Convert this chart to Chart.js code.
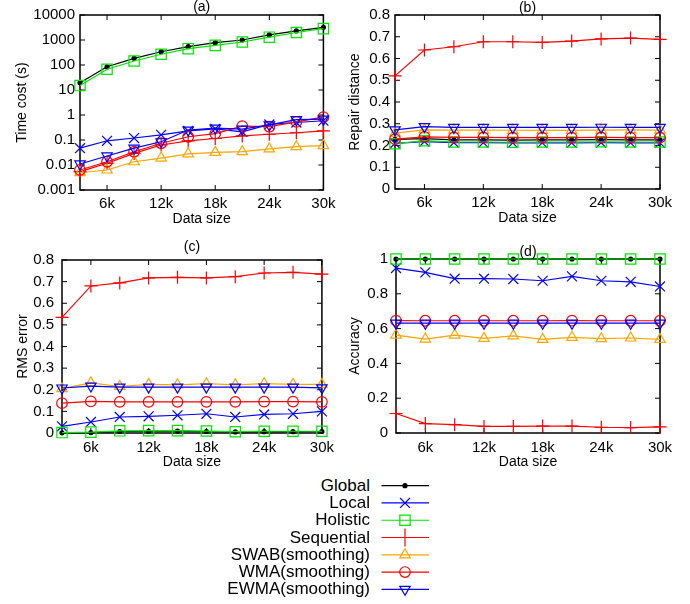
<!DOCTYPE html>
<html>
<head>
<meta charset="utf-8">
<script src="https://cdn.jsdelivr.net/npm/chart.js@4.4.1/dist/chart.umd.min.js"></script>
<style>
  body { margin: 0; background: #fff; width: 690px; height: 604px; position: relative; overflow: hidden;
         font-family: 'Liberation Sans', Arial, sans-serif; }
  canvas.panel { position: absolute; }
  .row { position: absolute; left: 0; width: 370px; height: 20px; line-height: 20px;
         text-align: right; font-size: 17px; color: #000; white-space: nowrap; }
</style>
</head>
<body>
<canvas id="chartA" class="panel" width="340" height="228" style="left:0;top:0"></canvas>
<canvas id="chartB" class="panel" width="350" height="227" style="left:340px;top:0"></canvas>
<canvas id="chartC" class="panel" width="340" height="231" style="left:0;top:240px"></canvas>
<canvas id="chartD" class="panel" width="350" height="231" style="left:340px;top:240px"></canvas>
<div id="legendText"></div>
<canvas id="legendMarks" class="panel" width="60" height="130" style="left:375px;top:470px"></canvas>
<script>
// x values and ticks
const dataSizes = [3000, 6000, 9000, 12000, 15000, 18000, 21000, 24000, 27000, 30000];
const xTickValues = [6000, 12000, 18000, 24000, 30000];
const xTickLabels = ['6k', '12k', '18k', '24k', '30k'];

const seriesNames = ['Global', 'Local', 'Holistic', 'Sequential', 'SWAB(smoothing)', 'WMA(smoothing)', 'EWMA(smoothing)'];

// (a) time cost (s), log scale
const timeGlobal     = [19.5, 85, 185, 340, 540, 780, 1000, 1600, 2300, 3200];
const timeLocal      = [0.047, 0.093, 0.12, 0.16, 0.23, 0.28, 0.21, 0.42, 0.5, 0.59];
const timeHolistic   = [15, 68, 145, 270, 450, 610, 830, 1300, 2000, 2850];
const timeSequential = [0.0054, 0.0117, 0.029, 0.063, 0.092, 0.115, 0.145, 0.17, 0.195, 0.23];
const timeSwab       = [0.0049, 0.0063, 0.0135, 0.019, 0.028, 0.032, 0.034, 0.044, 0.054, 0.06];
const timeWma        = [0.0063, 0.0135, 0.034, 0.074, 0.135, 0.18, 0.36, 0.34, 0.53, 0.82];
const timeEwma       = [0.011, 0.023, 0.047, 0.085, 0.25, 0.3, 0.27, 0.4, 0.65, 0.68];
const timeTickValues = [0.001, 0.01, 0.1, 1, 10, 100, 1000, 10000];
const timeTickLabels = ['0.001', '0.01', '0.1', '1', '10', '100', '1000', '10000'];

// (b) repair distance
const distGlobal     = [0.228, 0.232, 0.226, 0.226, 0.225, 0.226, 0.226, 0.227, 0.226, 0.226];
const distLocal      = [0.21, 0.218, 0.213, 0.213, 0.212, 0.212, 0.212, 0.213, 0.212, 0.212];
const distHolistic   = [0.208, 0.222, 0.216, 0.216, 0.215, 0.216, 0.216, 0.217, 0.216, 0.216];
const distSequential = [0.52, 0.639, 0.654, 0.677, 0.677, 0.674, 0.68, 0.69, 0.694, 0.688];
const distSwab       = [0.257, 0.272, 0.271, 0.271, 0.27, 0.27, 0.27, 0.271, 0.272, 0.271];
const distWma        = [0.229, 0.24, 0.237, 0.237, 0.236, 0.236, 0.236, 0.237, 0.236, 0.236];
const distEwma       = [0.272, 0.287, 0.283, 0.283, 0.283, 0.283, 0.283, 0.284, 0.283, 0.283];

// (c) RMS error
const rmsGlobal     = [0.001, 0.002, 0.007, 0.008, 0.009, 0.007, 0.005, 0.006, 0.006, 0.007];
const rmsLocal      = [0.031, 0.051, 0.074, 0.077, 0.082, 0.089, 0.074, 0.086, 0.089, 0.1];
const rmsHolistic   = [0.002, 0.004, 0.01, 0.011, 0.011, 0.009, 0.006, 0.008, 0.008, 0.008];
const rmsSequential = [0.535, 0.68, 0.694, 0.717, 0.72, 0.717, 0.723, 0.74, 0.743, 0.735];
const rmsSwab       = [0.205, 0.232, 0.215, 0.225, 0.223, 0.228, 0.223, 0.228, 0.225, 0.225];
const rmsWma        = [0.138, 0.146, 0.144, 0.144, 0.144, 0.144, 0.144, 0.145, 0.145, 0.144];
const rmsEwma       = [0.208, 0.217, 0.212, 0.212, 0.212, 0.212, 0.212, 0.212, 0.212, 0.209];
const tenthTickValues = [0, 0.1, 0.2, 0.3, 0.4, 0.5, 0.6, 0.7, 0.8];
const tenthTickLabels = ['0', '0.1', '0.2', '0.3', '0.4', '0.5', '0.6', '0.7', '0.8'];

// (d) accuracy
const accGlobal     = [1, 1, 1, 1, 1, 1, 1, 1, 1, 1];
const accLocal      = [0.948, 0.923, 0.887, 0.887, 0.885, 0.875, 0.9, 0.875, 0.869, 0.842];
const accHolistic   = [1, 1, 1, 1, 1, 1, 1, 1, 1, 1];
const accSequential = [0.112, 0.054, 0.048, 0.038, 0.038, 0.04, 0.04, 0.033, 0.031, 0.035];
const accSwab       = [0.563, 0.54, 0.563, 0.544, 0.558, 0.538, 0.55, 0.542, 0.546, 0.538];
const accWma        = [0.646, 0.645, 0.645, 0.645, 0.645, 0.645, 0.646, 0.645, 0.645, 0.645];
const accEwma       = [0.631, 0.631, 0.631, 0.631, 0.631, 0.631, 0.631, 0.631, 0.631, 0.631];
const accTickValues = [0, 0.2, 0.4, 0.6, 0.8, 1];
const accTickLabels = ['0', '0.2', '0.4', '0.6', '0.8', '1'];

const FONT = "'Liberation Sans', Arial, sans-serif";
Chart.defaults.font.family = FONT;
Chart.defaults.color = '#000';

const seriesStyles = [
  { color: '#000000', pointStyle: 'circle',   radius: 2,   filled: true },
  { color: '#0000ff', pointStyle: 'crossRot', radius: 7 },
  { color: '#00e600', pointStyle: 'rect',     radius: 7.3 },
  { color: '#ff0000', pointStyle: 'cross',    radius: 6.5 },
  { color: '#ffa500', pointStyle: 'triangle', radius: 6 },
  { color: '#ff0000', pointStyle: 'circle',   radius: 5.3 },
  { color: '#0000ff', pointStyle: 'triangle', radius: 6, rotation: 180 }
];

function makeDataset(i, values) {
  const s = seriesStyles[i];
  return {
    label: seriesNames[i],
    data: values.map((v, j) => ({ x: dataSizes[j], y: v })),
    borderColor: s.color,
    backgroundColor: s.color,
    borderWidth: 1.2,
    pointStyle: s.pointStyle,
    pointRadius: s.radius,
    pointRotation: s.rotation || 0,
    pointBorderColor: s.color,
    pointBorderWidth: 1.2,
    pointBackgroundColor: s.filled ? s.color : 'rgba(0,0,0,0)',
    clip: false,
    order: seriesNames.length - i
  };
}

// gnuplot-like border with inward ticks on all four sides
const boxPlugin = {
  id: 'box',
  beforeDatasetsDraw(chart) {
    const { ctx, chartArea: a, scales: { x, y } } = chart;
    ctx.save();
    ctx.strokeStyle = '#000';
    ctx.lineWidth = 1;
    ctx.beginPath();
    x.ticks.forEach(t => {
      const px = x.getPixelForValue(t.value);
      ctx.moveTo(px, a.bottom); ctx.lineTo(px, a.bottom - 5);
      ctx.moveTo(px, a.top); ctx.lineTo(px, a.top + 5);
    });
    y.ticks.forEach(t => {
      const py = y.getPixelForValue(t.value);
      ctx.moveTo(a.left, py); ctx.lineTo(a.left + 5, py);
      ctx.moveTo(a.right, py); ctx.lineTo(a.right - 5, py);
    });
    ctx.stroke();
    ctx.lineWidth = 1.5;
    ctx.strokeRect(a.left, a.top, a.right - a.left, a.bottom - a.top);
    ctx.restore();
  }
};

const titlePlugin = {
  id: 'panelTitle',
  afterDraw(chart, args, opts) {
    const { ctx, chartArea: a } = chart;
    ctx.save();
    ctx.font = '14px ' + FONT;
    ctx.fillStyle = '#000';
    ctx.textAlign = 'center';
    ctx.textBaseline = 'middle';
    ctx.fillText(opts.text, (a.left + a.right) / 2, a.top - opts.offset);
    ctx.restore();
  }
};

function makeChart(id, cfg) {
  return new Chart(document.getElementById(id), {
    type: 'line',
    data: { datasets: cfg.series.map((vals, i) => makeDataset(i, vals)) },
    options: {
      responsive: false,
      animation: false,
      devicePixelRatio: 1,
      layout: { padding: { top: cfg.top, right: cfg.right, left: 0, bottom: 0 } },
      plugins: {
        legend: { display: false },
        tooltip: { enabled: false },
        panelTitle: { text: cfg.title, offset: cfg.titleOffset }
      },
      scales: {
        x: {
          type: 'linear', min: 3000, max: 30000,
          grid: { display: false, drawTicks: false }, border: { display: false },
          afterBuildTicks: s => { s.ticks = xTickValues.map(v => ({ value: v })); },
          afterFit: s => { s.height = 38; },
          ticks: { padding: cfg.xPad, font: { size: 15 }, maxRotation: 0, autoSkip: false,
                   callback: (v, i) => xTickLabels[i] },
          title: { display: true, text: 'Data size', font: { size: 14 }, padding: 0 }
        },
        y: {
          type: cfg.yType, min: cfg.yMin, max: cfg.yMax,
          grid: { display: false, drawTicks: false }, border: { display: false },
          afterBuildTicks: s => { s.ticks = cfg.yTicks.map(v => ({ value: v })); },
          afterFit: s => { s.width = cfg.yWidth; },
          ticks: { padding: cfg.yPad, font: { size: 15 }, autoSkip: false,
                   callback: (v, i) => cfg.yLabels[i] },
          title: { display: true, text: cfg.yTitle, font: { size: 14 }, padding: { top: cfg.yTitlePad, bottom: 0 } }
        }
      }
    },
    plugins: [boxPlugin, titlePlugin]
  });
}

makeChart('chartA', {
  series: [timeGlobal, timeLocal, timeHolistic, timeSequential, timeSwab, timeWma, timeEwma],
  title: '(a)', titleOffset: 8, top: 15, right: 14, xPad: 4.5,
  yType: 'logarithmic', yMin: 0.001, yMax: 10000, yTicks: timeTickValues, yLabels: timeTickLabels,
  yWidth: 80, yPad: 5, yTitle: 'Time cost (s)', yTitlePad: 13.5
});

makeChart('chartB', {
  series: [distGlobal, distLocal, distHolistic, distSequential, distSwab, distWma, distEwma],
  title: '(b)', titleOffset: 7, top: 15, right: 30, xPad: 4.5,
  yType: 'linear', yMin: 0, yMax: 0.8, yTicks: tenthTickValues, yLabels: tenthTickLabels,
  yWidth: 55, yPad: 5, yTitle: 'Repair distance', yTitlePad: 6.6
});

makeChart('chartC', {
  series: [rmsGlobal, rmsLocal, rmsHolistic, rmsSequential, rmsSwab, rmsWma, rmsEwma],
  title: '(c)', titleOffset: 12.7, top: 20, right: 13, xPad: 6,
  yType: 'linear', yMin: 0, yMax: 0.8, yTicks: tenthTickValues, yLabels: tenthTickLabels,
  yWidth: 62, yPad: 8, yTitle: 'RMS error', yTitlePad: 14.3
});

makeChart('chartD', {
  series: [accGlobal, accLocal, accHolistic, accSequential, accSwab, accWma, accEwma],
  title: '(d)', titleOffset: 7, top: 19, right: 30, xPad: 6,
  yType: 'linear', yMin: 0, yMax: 1, yTicks: accTickValues, yLabels: accTickLabels,
  yWidth: 56, yPad: 8, yTitle: 'Accuracy', yTitlePad: 6.6
});

// legend: right-aligned names, sample line with marker on the right
const legendTop = 485.7, legendStep = 17.27;
const legendText = document.getElementById('legendText');
seriesNames.forEach((name, i) => {
  const row = document.createElement('div');
  row.className = 'row';
  row.style.top = (legendTop + i * legendStep - 10) + 'px';
  row.textContent = name;
  legendText.appendChild(row);
});

const lctx = document.getElementById('legendMarks').getContext('2d');
seriesNames.forEach((name, i) => {
  const s = seriesStyles[i];
  const cy = legendTop - 470 + i * legendStep;
  lctx.save();
  lctx.strokeStyle = s.color;
  lctx.fillStyle = s.filled ? s.color : 'rgba(0,0,0,0)';
  lctx.lineWidth = 1.2;
  lctx.beginPath();
  lctx.moveTo(6.5, cy); lctx.lineTo(54, cy);
  lctx.stroke();
  const opts = { pointStyle: s.pointStyle, radius: i === 3 ? 9 : s.radius, rotation: s.rotation || 0, borderWidth: 1.2 };
  Chart.helpers.drawPoint(lctx, opts, 30, cy);
  lctx.restore();
});
</script>
</body>
</html>
